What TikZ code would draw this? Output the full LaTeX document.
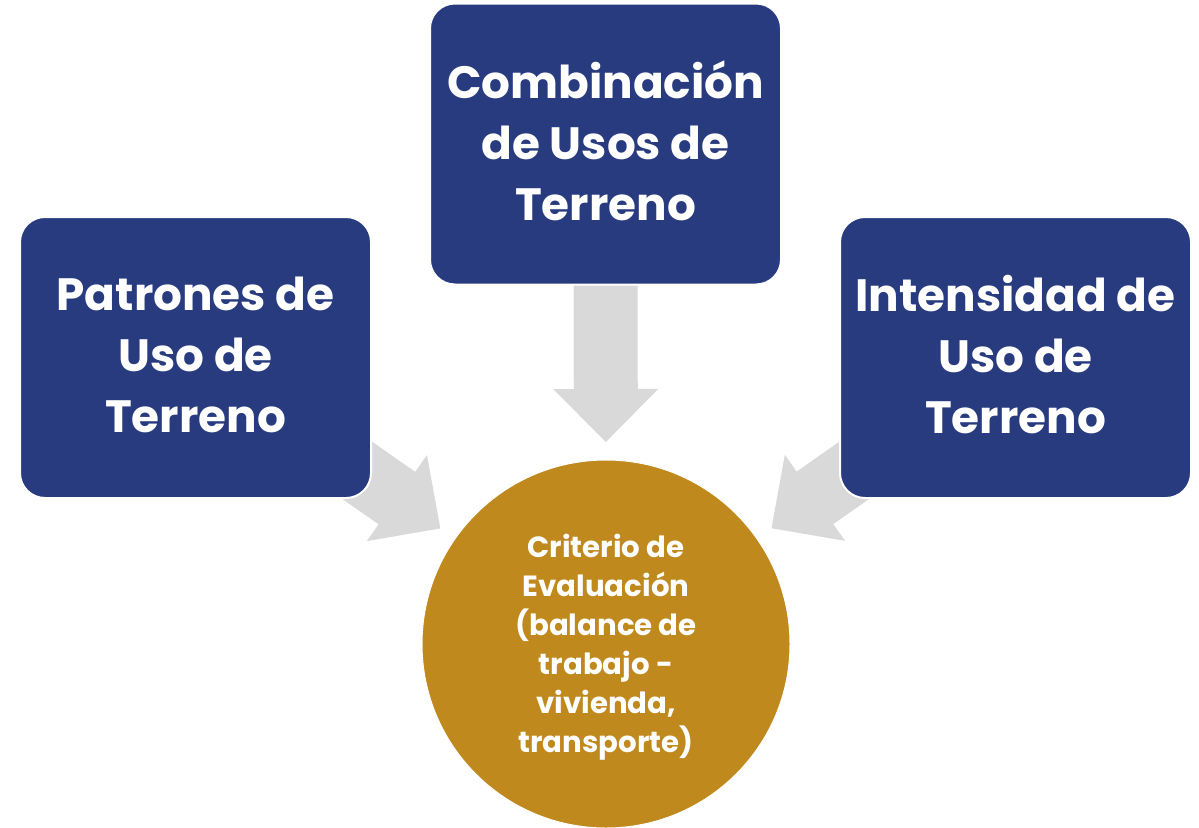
\documentclass[tikz,border=0pt]{standalone}
\usepackage{fontspec}
\setmainfont{Poppins}
\usetikzlibrary{calc,backgrounds}
\definecolor{boxblue}{RGB}{40,59,127}
\definecolor{gold}{RGB}{191,137,29}
\definecolor{arrowgray}{RGB}{217,217,217}
\tikzset{
  bluebox/.style={rectangle, rounded corners=25pt, fill=boxblue, draw=white, line width=2pt,
    minimum width=351pt, minimum height=281pt},
  boxtext/.style={text=white, align=center, inner sep=0pt,
    font=\bfseries\fontsize{45.3}{61}\selectfont},
  goldcirc/.style={circle, fill=gold, draw=white, line width=1pt, minimum size=368pt, inner sep=0pt},
  circtext/.style={text=white, align=center, inner sep=0pt,
    font=\bfseries\fontsize{29.2}{39}\selectfont},
  blockarrow/.style={fill=arrowgray, draw=none}
}
% #1 = source node, #2 = target node, #3 = tail length
\newcommand\blockarr[3]{%
  \coordinate (T) at ($(#2.center)!202pt!(#1.center)$);
  \coordinate (N) at ($(T)!53pt!(#1.center)$);
  \coordinate (S) at ($(T)!#3!(#1.center)$);
  \fill[blockarrow] (T)
    -- ($(N)!52.5pt!90:(#1.center)$)
    -- ($(N)!32pt!90:(#1.center)$)
    -- ($(S)!32pt!90:(#1.center)$)
    -- ($(S)!32pt!-90:(#1.center)$)
    -- ($(N)!32pt!-90:(#1.center)$)
    -- ($(N)!52.5pt!-90:(#1.center)$)
    -- cycle;
}
\begin{document}
\begin{tikzpicture}[x=1pt,y=-1pt]
\useasboundingbox (0,0) rectangle (1199,827);
\node[bluebox] (lbox) at (195.5,357.5) {};
\node[bluebox] (tbox) at (605.5,144) {};
\node[bluebox] (rbox) at (1015.5,357.5) {};
\node[goldcirc] (circ) at (606,644) {};
\node[boxtext] (ltext) at ($(lbox.center)+(0,-3)$) {Patrones de\\Uso de\\Terreno};
\node[boxtext] (ttext) at ($(tbox.center)+(0,-3)$) {Combinación\\de Usos de\\Terreno};
\node[boxtext] (rtext) at ($(rbox.center)+(0,-3)$) {Intensidad de\\Uso de\\Terreno};
\node[circtext] (ctext) at ($(circ.center)+(0,3)$) {Criterio de\\Evaluación\\(balance de\\trabajo -\\vivienda,\\transporte)};
\begin{pgfonlayer}{background}
\blockarr{tbox}{circ}{158pt}
\blockarr{lbox}{circ}{180pt}
\blockarr{rbox}{circ}{180pt}
\end{pgfonlayer}
\end{tikzpicture}
\end{document}
